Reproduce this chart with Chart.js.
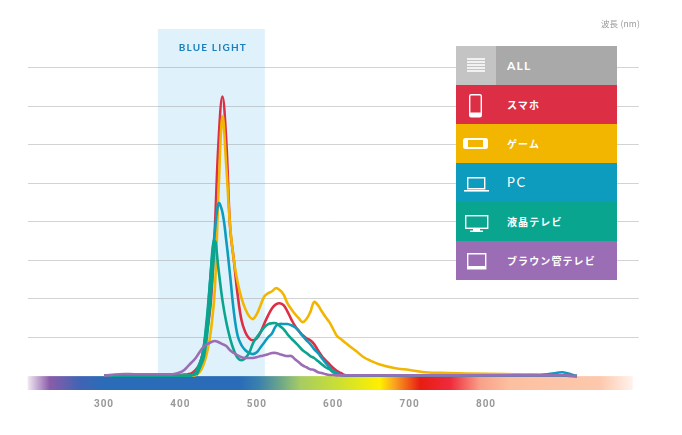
<!DOCTYPE html>
<html lang="ja">
<head>
<meta charset="utf-8">
<title>波長</title>
<script src="https://cdn.jsdelivr.net/npm/chart.js@4"></script>
<style>
    body { margin: 0; background: #fff; }
    #wrap { position: relative; width: 682px; height: 435px; overflow: hidden; }
    canvas { display: block; }
    #legend { position: absolute; left: 456px; top: 46px; width: 161px; }
    .row { position: relative; height: 39px; color: #fff; font: bold 10px/39px "Noto Sans CJK JP", sans-serif; letter-spacing: 1.1px; }
    .row svg { position: absolute; left: 0; top: 0; }
    .row span { position: absolute; left: 51px; top: 0; white-space: nowrap; }
    .row.latin { font: bold 12px/39px Lato, sans-serif; letter-spacing: 1.2px; }
    .row.thin { font-weight: normal; font-size: 13px; letter-spacing: 1.8px; }
    .cell { position: absolute; left: 0; top: 0; width: 40px; height: 39px; background: #c4c4c4; }
</style>
</head>
<body>
<div id="wrap">
    <canvas id="grafico" width="682" height="435"></canvas>
    <div id="legend"></div>
</div>
<script>
const tickLabels = [300, 400, 500, 600, 700, 800];
const blueBand = [370.5, 510.5];
const bandLabel = "BLUE LIGHT";
const unitLabel = "波長 (nm)";

const wavelengths = [
    300, 320, 340, 360, 380, 390, 400,
    405, 410, 415, 420, 425, 430, 435, 440, 445, 450,
    455, 460, 465, 470, 475, 480, 485, 490, 495, 500,
    505, 510, 515, 520, 525, 530, 535, 540, 545, 550,
    555, 560, 565, 570, 575, 580, 585, 590, 595, 600,
    605, 610, 615, 620,
    630, 640, 650, 660, 680, 700, 720, 750, 800, 850, 880, 900, 905, 919
];

const smartphone = [
    .01, .01, .01, .01, .01, .01, .03,
    .04, .05, .08, .16, .31, .65, 1.17, 1.97, 3.78, 6.11,
    7.25, 6.11, 3.88, 3.0, 2.10, 1.45, 1.14, .98, .93, .98,
    1.14, 1.37, 1.58, 1.76, 1.86, 1.89, 1.84, 1.68, 1.48, 1.30,
    1.17, 1.06, .98, .93, .83, .67, .52, .41, .31, .21,
    .13, .08, .03, .01,
    .01, .01, .01, .01, .01, .01, .01, .01, .01, .01, .01, .01, .01, 0
];
const game = [
    .01, .01, .01, .01, .01, .01, .01,
    .01, .01, .01, .03, .10, .28, .62, 1.19, 2.23, 4.82,
    6.73, 5.46, 3.91, 3.0, 2.43, 2.02, 1.74, 1.55, 1.48, 1.61,
    1.84, 2.07, 2.15, 2.20, 2.28, 2.23, 2.12, 1.89, 1.74, 1.61,
    1.50, 1.40, 1.48, 1.66, 1.92, 1.84, 1.68, 1.53, 1.40, 1.22,
    1.04, .96, .88, .80,
    .65, .49, .39, .31, .21, .16, .10, .08, .06, .04, .02, .02, .01, 0
];
const pc = [
    .01, .01, .01, .01, .01, .01, .01,
    .01, .01, .02, .10, .26, .67, 1.45, 2.75, 3.73, 4.48,
    4.25, 3.52, 2.62, 1.66, 1.04, .80, .67, .60, .57, .62,
    .75, .88, 1.01, 1.11, 1.30, 1.35, 1.35, 1.35, 1.32, 1.27,
    1.17, 1.04, .93, .83, .70, .60, .47, .34, .23, .13,
    .08, .03, .02, .01,
    .01, .01, .01, .01, .01, .01, .01, .01, .01, .03, .05, .10, .08, 0
];
const lcdTv = [
    .01, .01, .01, .01, .01, .01, .01,
    .01, .01, .03, .05, .26, .54, 1.32, 2.43, 3.50, 2.75,
    1.97, 1.40, .98, .67, .47, .41, .47, .60, .85, 1.01,
    1.14, 1.27, 1.35, 1.37, 1.37, 1.30, 1.22, 1.09, .98, .88,
    .78, .67, .60, .52, .47, .39, .31, .23, .18, .10,
    .05, .03, .02, .01,
    .01, .01, .01, .01, .01, .01, .01, .01, .01, .01, .01, .01, .01, 0
];
const crtTv = [
    .01, .05, .05, .05, .05, .05, .10,
    .16, .26, .36, .47, .62, .75, .83, .88, .91, .88,
    .83, .78, .67, .60, .54, .49, .47, .47, .47, .49,
    .52, .54, .57, .60, .60, .57, .54, .52, .52, .44,
    .36, .28, .23, .18, .16, .10, .08, .05, .03, .03,
    .02, .02, .02, .02,
    .02, .02, .02, .02, .02, .02, .02, .02, .02, .02, .02, .02, .02, 0
];

// visible spectrum strip under the curves, wavelength -> colour
const spectrumNm = [200, 229, 269, 301, 478, 502, 530, 557, 609, 661, 681, 714, 753, 792, 831, 949, 992];
const spectrumColors = ["#f2e9f3", "#8a5ca9", "#3f64b4", "#2a6cb8", "#2a6cb8", "#3a80ae", "#6aa58c", "#a6cc64", "#cde030",
    "#fff000", "#f9a020", "#e81c12", "#ef2a3c", "#f9a088", "#fcc0a0", "#fdc8ac", "#fff2ec"];

const legendNames = ["ALL", "スマホ", "ゲーム", "PC", "液晶テレビ", "ブラウン管テレビ"];
const legendColors = ["#a9a9a9", "#dc2f45", "#f2b600", "#0d9bbe", "#0aa58f", "#9b6db5"];

const icons = [
    '<path d="M11 13h18M11 16h18M11 19h18M11 22h18M11 25h18" stroke="#fff" stroke-width="1.6"/>',
    '<rect x="13.7" y="9.7" width="11.6" height="22" rx="1.5" fill="none" stroke="#fff" stroke-width="1.4"/><rect x="14" y="27.5" width="11" height="4" fill="#fff"/>',
    '<rect x="7" y="14" width="25" height="11" rx="2.5" fill="#fff"/><rect x="12" y="16" width="15" height="7" fill="#f2b600"/>',
    '<path d="M11.7 14.7h17v11h-17z" fill="none" stroke="#fff" stroke-width="1.4"/><path d="M8 27h25v1.6H8z" fill="#fff"/>',
    '<rect x="9.7" y="13.7" width="22" height="12.6" fill="none" stroke="#fff" stroke-width="1.4"/><path d="M17 27h7v1.5h3V30H14v-1.5h3z" fill="#fff"/>',
    '<path d="M11.7 12.7h18v15h-18z" fill="none" stroke="#fff" stroke-width="1.4"/><path d="M11 25h19v3H11z" fill="#fff"/>'
];

// legend panel
const legend = document.getElementById("legend");
legendNames.forEach((name, i) => {
    const row = document.createElement("div");
    row.className = name === "ALL" ? "row latin" : name === "PC" ? "row latin thin" : "row";
    row.style.background = legendColors[i];
    const cell = name === "ALL" ? '<div class="cell"></div>' : "";
    row.innerHTML = `${cell}<svg width="40" height="39">${icons[i]}</svg><span>${name}</span>`;
    legend.appendChild(row);
});

const backdrop = {
    id: "backdrop",
    beforeDraw(chart) {
        const { ctx, scales: { x, y } } = chart;
        ctx.letterSpacing = "1px";
        const left = x.getPixelForValue(blueBand[0]);
        const right = x.getPixelForValue(blueBand[1]);
        ctx.fillStyle = "#dff2fb";
        ctx.fillRect(left, chart.chartArea.top, right - left, y.getPixelForValue(0) - chart.chartArea.top);
    },
    beforeDatasetsDraw(chart) {
        const { ctx, scales: { x, y } } = chart;
        const x0 = x.getPixelForValue(spectrumNm[0]);
        const x1 = x.getPixelForValue(spectrumNm[spectrumNm.length - 1]);
        const grad = ctx.createLinearGradient(x0, 0, x1, 0);
        spectrumNm.forEach((nm, i) => {
            grad.addColorStop((x.getPixelForValue(nm) - x0) / (x1 - x0), spectrumColors[i]);
        });
        ctx.fillStyle = grad;
        const top = y.getPixelForValue(0);
        ctx.fillRect(x0, top, x1 - x0, chart.chartArea.bottom - top);
    },
    afterDraw(chart) {
        const { ctx, scales: { x } } = chart;
        ctx.save();
        ctx.textAlign = "center";
        ctx.textBaseline = "middle";
        ctx.fillStyle = "#1b7fbd";
        ctx.font = "bold 10px Lato, sans-serif";
        ctx.letterSpacing = "1.2px";
        ctx.fillText(bandLabel, (x.getPixelForValue(blueBand[0]) + x.getPixelForValue(blueBand[1])) / 2 + 1.5, 48);
        ctx.fillStyle = "#999";
        ctx.font = '8.5px "Noto Sans CJK JP", sans-serif';
        ctx.letterSpacing = "0.2px";
        ctx.textAlign = "right";
        ctx.fillText(unitLabel, 640, 23.5);
        ctx.restore();
    }
};

function serie(label, data, color, order) {
    return { label, data, borderColor: color, borderWidth: 2.6, order, pointRadius: 0, fill: false,
        borderJoinStyle: "round", tension: 0.4 };
}

const lcd = serie("液晶テレビ", lcdTv, legendColors[4], 2);
// the rising edge of this curve is drawn heavier
lcd.segment = { borderWidth: c => (c.p0.parsed.x >= 420 && c.p1.parsed.x <= 445 ? 4.5 : 2.6) };

new Chart(document.getElementById("grafico"), {
    type: "line",
    data: {
        labels: wavelengths,
        datasets: [
            serie("スマホ", smartphone, legendColors[1], 5),
            serie("ゲーム", game, legendColors[2], 4),
            serie("PC", pc, legendColors[3], 3),
            lcd,
            serie("ブラウン管テレビ", crtTv, legendColors[5], 1)
        ]
    },
    options: {
        responsive: false,
        animation: false,
        layout: { padding: { left: 27.6, right: 43.2, top: 29, bottom: 0 } },
        plugins: { legend: { display: false }, tooltip: { enabled: false } },
        scales: {
            x: {
                type: "linear",
                min: 200,
                max: 1000,
                afterFit: s => { s.height = 45; },
                grid: { display: false },
                border: { display: false },
                ticks: {
                    stepSize: 100,
                    autoSkip: false,
                    maxRotation: 0,
                    padding: 0,
                    color: "#999",
                    font: { family: "Roboto", size: 10, weight: "bold" },
                    callback: v => (tickLabels.includes(v) ? String(v) : "")
                }
            },
            y: {
                min: -0.36,
                max: 9,
                afterFit: s => { s.width = 0; },
                border: { display: false },
                ticks: { stepSize: 1, display: false },
                grid: {
                    drawTicks: false,
                    lineWidth: 1,
                    color: c => (c.tick.value >= 1 && c.tick.value <= 8 ? "rgba(150,150,150,0.42)" : "transparent")
                }
            }
        }
    },
    plugins: [backdrop]
});
</script>
</body>
</html>
